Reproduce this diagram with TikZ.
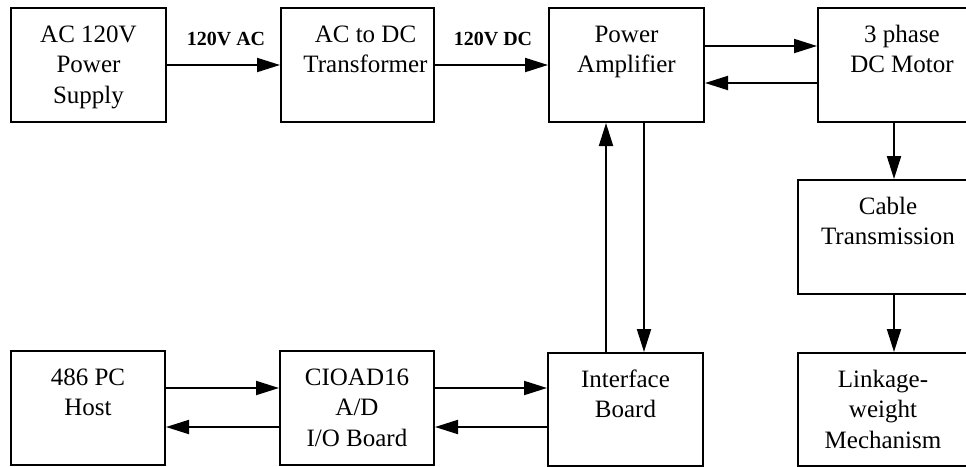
\documentclass[tikz,border=0pt]{standalone}
\usepackage{fontspec}
\setmainfont{Liberation Serif}
\usetikzlibrary{arrows.meta}
\newcommand\boxtext[3]{\parbox[c][#2][t]{#1}{\centering\fontsize{25}{30.5}\selectfont\rule{0pt}{34pt}#3\par}}
\begin{document}
\begin{tikzpicture}[x=1pt,y=-1pt,
  blk/.style={draw, line width=2pt, inner sep=0pt, anchor=north west},
  arr/.style={line width=2pt, -{Triangle[length=23pt,width=14pt]}},
  lbl/.style={font=\bfseries\fontsize{20}{24}\selectfont, anchor=base, inner sep=0pt}]
\useasboundingbox (0,0) rectangle (966,466);
\clip (0,0) rectangle (966,466);
% boxes
\node[blk] (ac) at (10,7) {\boxtext{155pt}{114pt}{AC 120V\\Power\\Supply}};
\node[blk] (tr) at (280,7) {\boxtext{153pt}{114pt}{\hspace*{16pt}AC to DC\\\hspace*{16pt}Transformer}};
\node[blk] (pa) at (548,7) {\boxtext{155pt}{114pt}{Power\\Amplifier}};
\node[blk] (mo) at (817,7) {\boxtext{168pt}{114pt}{3 phase\\DC Motor}};
\node[blk] (cb) at (797,179) {\boxtext{180pt}{114pt}{Cable\\Transmission}};
\node[blk] (lk) at (797,352) {\boxtext{170pt}{113pt}{Linkage-\\weight\\Mechanism}};
\node[blk] (ib) at (547,352) {\boxtext{155pt}{113pt}{Interface\\Board}};
\node[blk] (io) at (279,350) {\boxtext{154pt}{114pt}{CIOAD16\\A/D\\I/O Board}};
\node[blk] (pc) at (10,350) {\boxtext{154pt}{114pt}{486 PC\\Host}};
% labels
\node[lbl] (lac) at (226,45) {120V AC};
\node[lbl] (ldc) at (493,45) {120V DC};
% helper coordinates
\coordinate (yA) at (0,65);
\coordinate (yB) at (0,46);
\coordinate (yC) at (0,83);
\coordinate (yD) at (0,388);
\coordinate (yE) at (0,427);
\coordinate (xM) at (894,0);
\coordinate (xU) at (606,0);
\coordinate (xD) at (644,0);
% connectors
\draw[arr] (ac.east |- yA) -- (tr.west |- yA);
\draw[arr] (tr.east |- yA) -- (pa.west |- yA);
\draw[arr] (pa.east |- yB) -- (mo.west |- yB);
\draw[arr] (mo.west |- yC) -- (pa.east |- yC);
\draw[arr] (xM |- mo.south) -- (xM |- cb.north);
\draw[arr] (xM |- cb.south) -- (xM |- lk.north);
\draw[arr] (xU |- ib.north) -- (xU |- pa.south);
\draw[arr] (xD |- pa.south) -- (xD |- ib.north);
\draw[arr] (pc.east |- yD) -- (io.west |- yD);
\draw[arr] (io.west |- yE) -- (pc.east |- yE);
\draw[arr] (io.east |- yD) -- (ib.west |- yD);
\draw[arr] (ib.west |- yE) -- (io.east |- yE);
\end{tikzpicture}
\end{document}
